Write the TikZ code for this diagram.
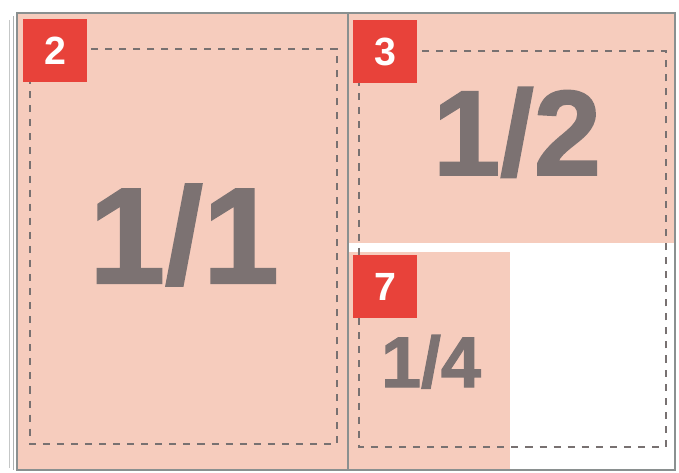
\documentclass[tikz,border=0pt]{standalone}
\usepackage{fontspec}
\setmainfont{Liberation Sans}
\newfontfamily\heavyfont[FakeBold=1.6]{Liberation Sans Bold}
\usetikzlibrary{positioning}
\definecolor{pagepink}{RGB}{246,204,189}
\definecolor{tagred}{RGB}{232,66,58}
\definecolor{sizegray}{RGB}{124,114,114}
\definecolor{framegray}{RGB}{138,144,144}
\definecolor{guidegray}{RGB}{120,113,113}

\begin{document}
\begin{tikzpicture}[x=0.025cm, y=-0.025cm,
    tag/.style={fill=tagred, text=white, font=\fontsize{28}{28}\selectfont\bfseries, minimum width=1.6cm, minimum height=1.58cm, inner sep=0pt, anchor=north west},
    sizetext/.style={text=sizegray, inner sep=0pt, anchor=base},
    guide/.style={draw=guidegray, dash pattern=on 5pt off 5pt, line width=0.8pt}]
        \useasboundingbox (0,0) rectangle (679,473);
        % paper edges behind
        \draw[framegray!50, line width=0.5pt] (9,20) -- (9,468);
        \draw[framegray!70, line width=0.5pt] (13,16) -- (13,470);
        % pages
        \fill[pagepink] (17,13) rectangle (348,470);
        \fill[pagepink] (348,13) rectangle (675,243);
        \fill[pagepink] (348,252) rectangle (510,470);
        \draw[framegray, line width=1.5pt] (17,13) rectangle (675,470);
        \draw[framegray, line width=1pt] (348,13) -- (348,470);
        % type areas
        \draw[guide] (30,49) rectangle (337,444);
        \draw[guide] (359,51) rectangle (666,447);
        % page numbers
        \node[tag] (tagtwo) at (23,19) {2};
        \node[tag] (tagthree) at (353,20) {3};
        \node[tag] (tagseven) at (353,255) {7};
        % ad sizes
        \node[sizetext, font=\fontsize{97}{97}\selectfont\heavyfont] (full) at (184,283) {1/1};
        \node[sizetext, font=\fontsize{86}{86}\selectfont\heavyfont] (half) at (517,175) {1/2};
        \node[sizetext, font=\fontsize{51}{51}\selectfont\heavyfont] (quarter) at (431,387) {1/4};
\end{tikzpicture}
\end{document}
